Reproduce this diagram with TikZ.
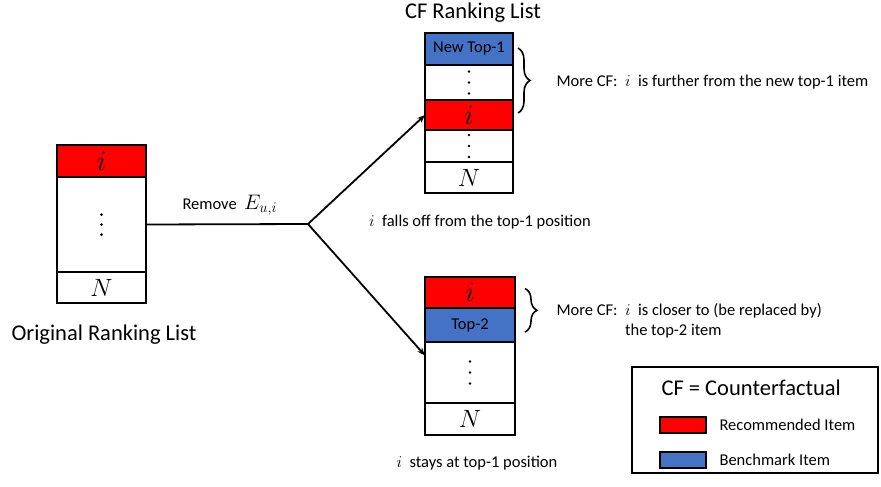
\RequirePackage{fix-cm}
\documentclass[tikz,border=0pt]{standalone}
\usepackage{fontspec}
\setmainfont{Carlito}
\usetikzlibrary{arrows.meta,decorations.pathreplacing,calc}
\definecolor{cfred}{RGB}{255,0,0}
\definecolor{cfblue}{RGB}{68,114,196}
\begin{document}
\begin{tikzpicture}[x=1pt,y=-1pt,
  every node/.style={font=\fontsize{16.5}{20}\selectfont},
  cell/.style={draw,line width=2.8pt,inner sep=0pt,outer sep=0pt,font=\fontsize{25}{25}\selectfont},
  ocell/.style={cell,minimum width=89pt},
  acell/.style={cell,minimum width=88pt},
  bcell/.style={cell,minimum width=90pt},
  redcell/.style={fill=cfred,font=\fontsize{28}{28}\selectfont},
  bluecell/.style={fill=cfblue,font=\fontsize{16.5}{20}\selectfont},
  small/.style={font=\fontsize{16.5}{20}\selectfont},
  big/.style={font=\fontsize{22.5}{26}\selectfont},
  conn/.style={line width=1.8pt},
  arr/.style={conn,-{Stealth[length=8pt,width=6pt]}},
  brace/.style={line width=1.6pt,decorate,decoration={brace,amplitude=12pt,aspect=0.5}},
  swatch/.style={draw,line width=2.8pt,minimum width=46pt,minimum height=16pt,inner sep=0pt},
  dot/.style={fill=black}
]
\useasboundingbox (0,0) rectangle (881,487);

% original list
\node[ocell,redcell,minimum height=32pt] (o1) at (101.5,161) {$i$};
\node[ocell,minimum height=95pt] (o2) at (101.5,224.5) {};
\node[ocell,minimum height=31pt] (o3) at (101.5,287.5) {$N$};
\node[big] (olabel) at (104,335) {Original Ranking List};
\foreach \d in {-10,0,10} \fill[dot] ($(o2.center)+(0,\d)$) circle (1.5pt);

% upper CF list
\node[big] (cflabel) at (473,13) {CF Ranking List};
\node[acell,bluecell,minimum height=32pt] (a1) at (469,49) {New Top-1};
\node[acell,minimum height=35pt] (a2) at (469,82.5) {};
\node[acell,redcell,minimum height=30pt] (a3) at (469,115) {$i$};
\node[acell,minimum height=32pt] (a4) at (469,146) {};
\node[acell,minimum height=31pt] (a5) at (469,177.5) {$N$};
\foreach \d in {-11,0,11} {
  \fill[dot] ($(a2.center)+(0,\d)$) circle (1.4pt);
  \fill[dot] ($(a4.center)+(0,\d)$) circle (1.4pt);
}
\node[small] (falls) at (480,222) {$i$ \ falls off from the top-1 position};

% lower CF list
\node[bcell,redcell,minimum height=31pt] (b1) at (470,292.5) {$i$};
\node[bcell,bluecell,minimum height=34pt] (b2) at (470,325) {Top-2};
\node[bcell,minimum height=61pt] (b3) at (470,372.5) {};
\node[bcell,minimum height=32pt] (b4) at (470,419) {$N$};
\foreach \d in {-11,0,11} \fill[dot] ($(b3.center)+(0,\d)$) circle (1.4pt);
\node[small] (stays) at (477,463) {$i$ \ stays at top-1 position};

% connectors
\coordinate (j) at (308,224);
\draw[conn] (o2.east) -- (j);
\node[small,anchor=base west] (remove) at (179,209) {Remove \ {\fontsize{21}{21}\selectfont$E_{u,i}$}};
\draw[arr] (j) -- (a3.west);
\draw[arr] (j) -- ([yshift=17pt]b3.west);

% braces
\coordinate (ub1) at ($(a1.east)+(5,-1)$);
\coordinate (ub2) at ($(a3.east)+(5,-2)$);
\draw[brace] (ub1) -- (ub2);
\node[small,anchor=west] (more1) at (553,82) {More CF: \ $i$ \ is further from the new top-1 item};

\coordinate (lb1) at ($(b1.east)+(10,-4)$);
\coordinate (lb2) at ($(b2.east)+(10,7)$);
\draw[brace] (lb1) -- (lb2);
\node[small,anchor=north west,align=left] (more2) at (553,300) {More CF: \ $i$ \ is closer to (be replaced by)\\\phantom{More CF: \ }the top-2 item};

% legend
\node[draw,line width=2.8pt,minimum width=246pt,minimum height=106pt,inner sep=0pt] (legend) at (755,420) {};
\node[big,anchor=west] (lt) at (658,388) {CF = Counterfactual};
\node[swatch,fill=cfred] (sw1) at (683,425) {};
\node[swatch,fill=cfblue] (sw2) at (683,460) {};
\node[small,anchor=west] (lr) at (716,425) {Recommended Item};
\node[small,anchor=west] (lb) at (716,460) {Benchmark Item};
\end{tikzpicture}
\end{document}
